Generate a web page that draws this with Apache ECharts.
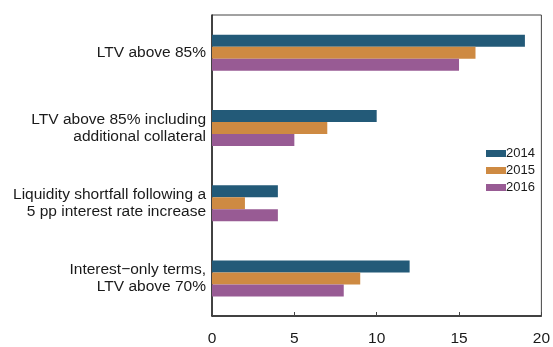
<!DOCTYPE html>
<html lang="en">
<head>
    <meta charset="UTF-8">
    <title>Mortgage risk indicators</title>
    <script src="https://cdn.jsdelivr.net/npm/echarts@6.0.0/dist/echarts.min.js"></script>
    <style>
        body, html {
            margin: 0;
            padding: 0;
            width: 100%;
            height: 100%;
            background-color: #ffffff;
        }
        #main {
            width: 553px;
            height: 347px;
        }
    </style>
</head>
<body>
    <div id="main"></div>
    <script>
        // categories, top to bottom
        const categories = [
            'LTV above 85%',
            'LTV above 85% including\nadditional collateral',
            'Liquidity shortfall following a\n5 pp interest rate increase',
            'Interest\u2212only terms,\nLTV above 70%'
        ];
        const years = ['2014', '2015', '2016'];
        const values2014 = [19, 10, 4, 12];
        const values2015 = [16, 7, 2, 9];
        const values2016 = [15, 5, 4, 8];
        const xTicks = [0, 5, 10, 15, 20];

        const colors = ['#235a78', '#ce8a42', '#985b94'];
        const font = '"Liberation Sans", Arial, sans-serif';

        var myChart = echarts.init(document.getElementById('main'));

        const option = {
            animation: false,
            backgroundColor: '#ffffff',
            textStyle: { fontFamily: font },
            grid: {
                left: 212,
                right: 9,
                top: 15,
                bottom: 29,
                show: true,
                borderColor: '#444',
                borderWidth: 1,
                containLabel: false
            },
            legend: {
                data: years,
                orient: 'vertical',
                left: 481,
                top: 142,
                itemWidth: 20,
                itemHeight: 7,
                itemGap: 4,
                icon: 'rect',
                textStyle: {
                    fontFamily: font,
                    fontSize: 13,
                    color: '#1a1a1a',
                    padding: [0, 0, 0, -5]
                }
            },
            xAxis: {
                type: 'value',
                min: xTicks[0],
                max: xTicks[xTicks.length - 1],
                interval: 5,
                axisLine: { show: true, lineStyle: { color: '#222', width: 1.5 } },
                axisTick: { show: true, inside: true, length: 4, lineStyle: { color: '#444' } },
                axisLabel: { fontFamily: font, fontSize: 15.5, color: '#1a1a1a', margin: 15 },
                splitLine: { show: false }
            },
            yAxis: {
                type: 'category',
                data: categories,
                inverse: true,
                axisLine: { show: true, lineStyle: { color: '#222', width: 1.5 } },
                axisTick: { show: true, inside: true, length: 3, alignWithLabel: true, interval: 0, lineStyle: { color: '#222' } },
                axisLabel: {
                    fontFamily: font,
                    fontSize: 15.5,
                    color: '#1a1a1a',
                    lineHeight: 17,
                    align: 'right',
                    margin: 6
                }
            },
            series: [
                { name: years[0], type: 'bar', data: values2014, itemStyle: { color: colors[0] }, barWidth: 12, barGap: '0%' },
                { name: years[1], type: 'bar', data: values2015, itemStyle: { color: colors[1] }, barWidth: 12, barGap: '0%' },
                { name: years[2], type: 'bar', data: values2016, itemStyle: { color: colors[2] }, barWidth: 12, barGap: '0%' }
            ]
        };

        myChart.setOption(option);
    </script>
</body>
</html>
